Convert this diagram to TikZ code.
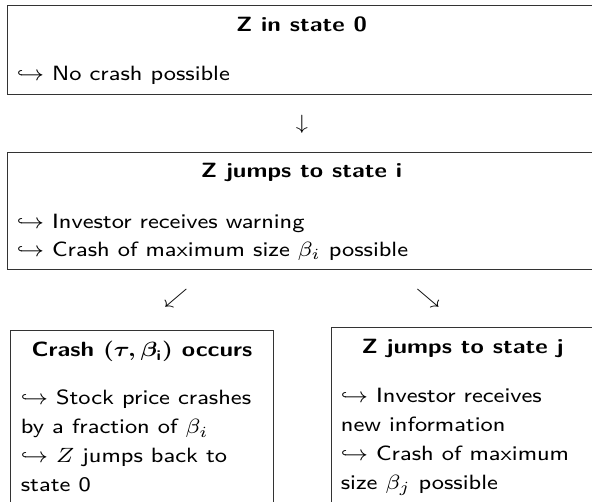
\documentclass[tikz,border=0pt]{standalone}
\usepackage{graphicx}
\usepackage{amsmath}
\newcommand\stretchttl[1]{\scalebox{2.42}[2.06]{#1}}
\newcommand\stretchtxt[1]{\scalebox{2.87}[2.58]{#1}}
\tikzset{
  boxline/.style={draw=black!80, line width=0.9pt},
  ttl/.style={font=\sffamily\bfseries\fontsize{10}{12}\selectfont, inner sep=0pt, anchor=base},
  txt/.style={font=\sffamily\fontsize{8}{10}\selectfont, inner sep=0pt, anchor=base west},
  arr/.style={font=\fontsize{10}{12}\selectfont, inner sep=0pt}
}
\begin{document}
\begin{tikzpicture}[x=1pt,y=1pt]
\useasboundingbox (0,0) rectangle (592,502);
\clip (0,0) rectangle (592,502);
% boxes
\draw[boxline] (7.3,407.7) rectangle (640,496.3);
\draw[boxline] (7.3,232.7) rectangle (640,349.3);
\draw[boxline] (10.7,-30) rectangle (273.3,172);
\draw[boxline] (331,-30) rectangle (640,174.3);
% top box
\node[ttl] (t0) at (301.5,470.3) {\stretchttl{Z in state 0}};
\node[txt] (t0a) at (16.7,421) {\stretchtxt{$\hookrightarrow$ No crash possible}};
\node[arr] (a1) at (302,378) {\stretchttl{$\downarrow$}};
% middle box
\node[ttl] (t1) at (301.5,324) {\stretchttl{Z jumps to state i}};
\node[txt] (t1a) at (16.7,273.7) {\stretchtxt{$\hookrightarrow$ Investor receives warning}};
\node[txt] (t1b) at (16.7,245.3) {\stretchtxt{$\hookrightarrow$ Crash of maximum size $\beta_i$ possible}};
\node[arr] (a2) at (176,204) {\stretchttl{$\swarrow$}};
\node[arr] (a3) at (428,204) {\stretchttl{$\searrow$}};
% left box
\node[ttl] (t2) at (142,145) {\stretchttl{Crash {\mathversion{bold}$(\tau,\beta_{\text{i}})$} occurs}};
\node[txt] (t2a) at (20.7,97) {\stretchtxt{$\hookrightarrow$ Stock price crashes}};
\node[txt] (t2b) at (20.7,68) {\stretchtxt{by a fraction of $\beta_i$}};
\node[txt] (t2c) at (20.7,39) {\stretchtxt{$\hookrightarrow$ $Z$ jumps back to}};
\node[txt] (t2d) at (20.7,10) {\stretchtxt{state 0}};
% right box
\node[ttl] (t3) at (462.5,148) {\stretchttl{Z jumps to state j}};
\node[txt] (t3a) at (340.7,99.5) {\stretchtxt{$\hookrightarrow$ Investor receives}};
\node[txt] (t3b) at (340.7,70.5) {\stretchtxt{new information}};
\node[txt] (t3c) at (340.7,41.5) {\stretchtxt{$\hookrightarrow$ Crash of maximum}};
\node[txt] (t3d) at (340.7,12.5) {\stretchtxt{size $\beta_j$ possible}};
\end{tikzpicture}
\end{document}
